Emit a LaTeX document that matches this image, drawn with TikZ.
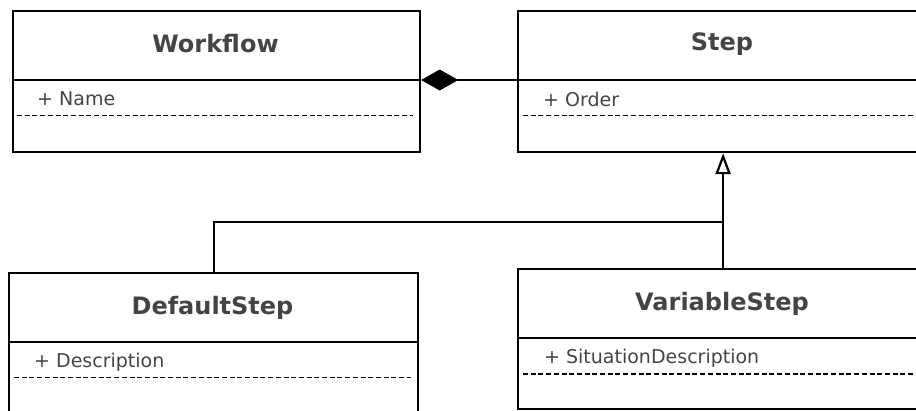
\documentclass[tikz,border=0pt]{standalone}
\usepackage{fontspec}
\setmainfont{DejaVu Sans}
\usetikzlibrary{arrows.meta}
\definecolor{txt}{HTML}{444444}
\begin{document}
\begin{tikzpicture}[x=1pt,y=-1pt,
  box/.style={draw=black, line width=2.2pt, rectangle, anchor=north west, inner sep=0pt},
  title/.style={font=\fontsize{24}{26}\selectfont\bfseries, text=txt, inner sep=0pt},
  attr/.style={font=\fontsize{19}{22}\selectfont, text=txt, anchor=west, inner sep=0pt},
  sepline/.style={line width=2.4pt},
  dsep/.style={line width=1.8pt, dash pattern=on 5pt off 2.7pt},
  conn/.style={line width=2.2pt}]
\useasboundingbox (0,0) rectangle (916,410);
\clip (0,0) rectangle (916,410);
% boxes
\node[box, minimum width=407pt, minimum height=141.5pt] (wf) at (12,9.5) {};
\node[box, minimum width=410pt, minimum height=141.5pt] (st) at (517,9.5) {};
\node[box, minimum width=409pt, minimum height=141.5pt] (ds) at (8,272) {};
\node[box, minimum width=410pt, minimum height=140pt] (vs) at (517,268) {};
% titles
\node[title] (wft) at (215.5,44) {Workflow};
\node[title] (stt) at (722,44) {Step};
\node[title] (dst) at (212.5,308) {DefaultStep};
\node[title] (vst) at (722,304) {VariableStep};
% separators
\draw[sepline] (12,80) -- (419,80);
\draw[sepline] (517,80) -- (927,80);
\draw[sepline] (8,342) -- (417,342);
\draw[sepline] (517,338) -- (927,338);
\draw[dsep] (17,115.5) -- (413,115.5);
\draw[dsep] (523,115.5) -- (922,115.5);
\draw[dsep] (14,377.5) -- (411,377.5);
\draw[dsep] (523,374) -- (922,374);
% attributes
\node[attr] (wfa) at (37,99) {+ Name};
\node[attr] (sta) at (543,99) {+ Order};
\node[attr] (dsa) at (34,362) {+ Description};
\node[attr] (vsa) at (544,358) {+ SituationDescription};
% connectors
\draw[conn, {Diamond[length=37pt,width=21pt,fill=black]}-] ([yshift=-70.5pt]wf.north east) -- ([yshift=-70.5pt]st.north west);
\draw[conn, -{Triangle[open,length=21pt,width=15pt,fill=white]}] (vs.north) -- (st.south);
\draw[conn] (ds.north) |- ([yshift=46pt]vs.north);
\end{tikzpicture}
\end{document}
